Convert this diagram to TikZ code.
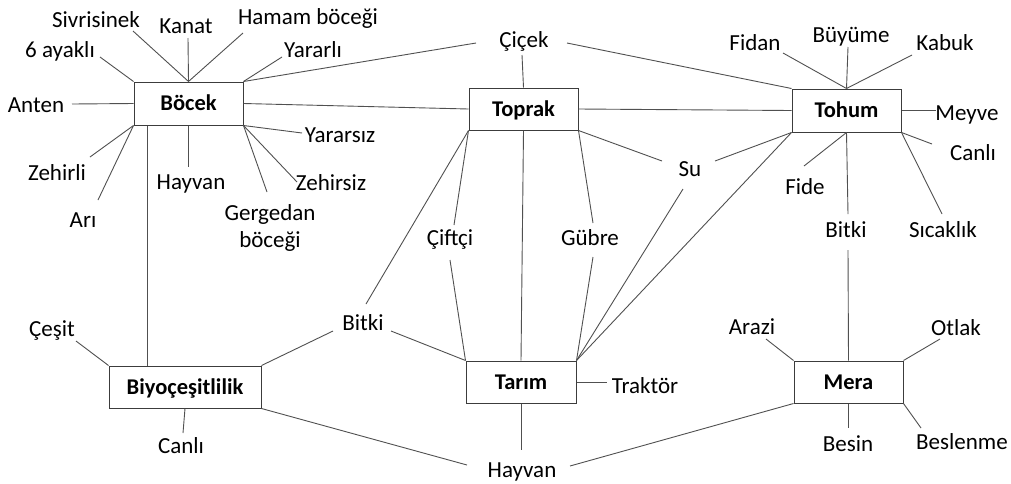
\documentclass[tikz,border=0pt]{standalone}
\usepackage{fontspec}
\setmainfont{Carlito}
\usetikzlibrary{calc}
\definecolor{ln}{RGB}{80,80,80}
\definecolor{bx}{RGB}{60,60,60}
\begin{document}
\begin{tikzpicture}[x=1pt,y=-1pt,
  box/.style={draw=bx,line width=1pt,minimum width=109pt,minimum height=43pt,inner sep=0pt,text height=14pt,text depth=0pt,font=\fontsize{22.5}{26}\selectfont\bfseries},
  lbl/.style={inner sep=0pt,text height=14pt,text depth=0pt,font=\fontsize{23}{27}\selectfont},
  conn/.style={draw=ln,line width=0.9pt}]
\useasboundingbox (0,0) rectangle (1011,483);
% boxes
\node[box] (bocek) at (188.5,103.5) {Böcek};
\node[box,minimum height=42pt] (toprak) at (523.5,109) {Toprak};
\node[box] (tohum) at (846.5,110.5) {Tohum};
\node[box,minimum width=152pt,minimum height=42pt] (biyo) at (185,387) {Biyoçeşitlilik};
\node[box,minimum width=110pt,minimum height=42pt] (tarim) at (521,382) {Tarım};
\node[box,minimum height=42pt] (mera) at (848.5,382) {Mera};
% labels
\node[lbl] (sivri) at (96,20) {Sivrisinek};
\node[lbl] (kanat) at (186,26) {Kanat};
\node[lbl] (hamam) at (308,17) {Hamam böceği};
\node[lbl] (ayak) at (60,50) {6 ayaklı};
\node[lbl] (yararli) at (313,50) {Yararlı};
\node[lbl] (anten) at (36,105) {Anten};
\node[lbl] (yararsiz) at (340,135) {Yararsız};
\node[lbl] (zehirli) at (57,173) {Zehirli};
\node[lbl] (hayvanA) at (191,182) {Hayvan};
\node[lbl] (zehirsiz) at (331,183) {Zehirsiz};
\node[inner sep=0pt,align=center,font=\fontsize{23}{27}\selectfont] (gerg) at (270,228) {Gergedan\\böceği};
\node[lbl] (ari) at (83,220) {Arı};
\node[lbl] (cicek) at (524,40) {Çiçek};
\node[lbl] (su) at (690,169) {Su};
\node[lbl] (ciftci) at (450,238) {Çiftçi};
\node[lbl] (gubre) at (590,238) {Gübre};
\node[lbl] (bitkiA) at (363,323) {Bitki};
\node[lbl] (fidan) at (755,43) {Fidan};
\node[lbl] (buyume) at (851,35) {Büyüme};
\node[lbl] (kabuk) at (945,43) {Kabuk};
\node[lbl] (meyve) at (967,113) {Meyve};
\node[lbl] (canliA) at (973,153) {Canlı};
\node[lbl] (fide) at (805,187) {Fide};
\node[lbl] (bitkiB) at (846,230) {Bitki};
\node[lbl] (sicak) at (943,230) {Sıcaklık};
\node[lbl] (cesit) at (52,329) {Çeşit};
\node[lbl] (canliB) at (181,446) {Canlı};
\node[lbl] (hayvanB) at (522,470) {Hayvan};
\node[lbl] (traktor) at (645,386) {Traktör};
\node[lbl] (arazi) at (752,327) {Arazi};
\node[lbl] (otlak) at (956,328) {Otlak};
\node[lbl] (besin) at (848,444) {Besin};
\node[lbl] (beslen) at (962,442) {Beslenme};
% free ends
\coordinate (c6ayak) at (100,57);
\coordinate (csivri) at (133,31);
\coordinate (ckanat) at (188,38);
\coordinate (chamam) at (243,33);
\coordinate (cyararli) at (282,57);
\coordinate (ccicekL) at (476,43);
\coordinate (canten) at (72,104);
\coordinate (cyararsiz) at (302,133);
\coordinate (czehirsiz) at (297,182);
\coordinate (cgerg) at (267,192);
\coordinate (chayvanA) at (188.5,167);
\coordinate (czehirli) at (90,157);
\coordinate (cari) at (98,200);
\coordinate (ccicekB) at (522,55);
\coordinate (ccicekR) at (567,43);
\coordinate (csuL) at (662,161);
\coordinate (cgubreT) at (593,223);
\coordinate (cciftciT) at (454,225);
\coordinate (cbitkiT) at (366,304);
\coordinate (cbitkiR) at (391,331);
\coordinate (cbitkiL) at (333,331);
\coordinate (cciftciB) at (450,260);
\coordinate (cgubreB) at (593,257);
\coordinate (csuB) at (683,189);
\coordinate (csuR) at (715,161);
\coordinate (cfidan) at (783,53);
\coordinate (cbuyume) at (848,47);
\coordinate (ckabuk) at (912,55);
\coordinate (cmeyve) at (936,110.5);
\coordinate (ccanliA) at (932,144);
\coordinate (csicak) at (942,214);
\coordinate (cfide) at (804,166);
\coordinate (cbitkiBT) at (848,214);
\coordinate (cbitkiBB) at (848,250);
\coordinate (carazi) at (766,339);
\coordinate (cotlak) at (940,339);
\coordinate (cbesin) at (848.5,428);
\coordinate (cbeslen) at (921,428);
\coordinate (chayvanR) at (570,466);
\coordinate (ctraktor) at (607,382);
\coordinate (chayvanT) at (521,450);
\coordinate (ccesit) at (76,341);
\coordinate (ccanliB) at (183,433);
\coordinate (chayvanL) at (467,465);
% connectors: Böcek
\draw[conn] (c6ayak) -- (bocek.north west);
\draw[conn] (csivri) -- (bocek.north);
\draw[conn] (ckanat) -- (bocek.north);
\draw[conn] (chamam) -- (bocek.north);
\draw[conn] (cyararli) -- (bocek.north east);
\draw[conn] (bocek.north east) -- (ccicekL);
\draw[conn] (canten) -- (bocek.west);
\draw[conn] (bocek.east) -- (toprak.west);
\draw[conn] (bocek.south east) -- (cyararsiz);
\draw[conn] (bocek.south east) -- (czehirsiz);
\draw[conn] (bocek.south east) -- (cgerg);
\draw[conn] (bocek.south) -- (chayvanA);
\draw[conn] (bocek.south west) -- (czehirli);
\draw[conn] (bocek.south west) -- (cari);
\draw[conn] ([xshift=14pt]bocek.south west) -- ([xshift=14pt]bocek.south west |- biyo.north);
% Toprak
\draw[conn] (ccicekB) -- (toprak.north);
\draw[conn] (ccicekR) -- (tohum.north west);
\draw[conn] (toprak.east) -- (tohum.west);
\draw[conn] (toprak.south east) -- (csuL);
\draw[conn] (toprak.south east) -- (cgubreT);
\draw[conn] (toprak.south) -- (tarim.north);
\draw[conn] (toprak.south west) -- (cciftciT);
\draw[conn] (toprak.south west) -- (cbitkiT);
\draw[conn] (cbitkiR) -- (tarim.north west);
\draw[conn] (cbitkiL) -- (biyo.north east);
\draw[conn] (cciftciB) -- (tarim.north west);
\draw[conn] (cgubreB) -- (tarim.north east);
\draw[conn] (csuB) -- (tarim.north east);
\draw[conn] (tohum.south west) -- (tarim.north east);
\draw[conn] (csuR) -- (tohum.south west);
% Tohum
\draw[conn] (cfidan) -- (tohum.north);
\draw[conn] (cbuyume) -- (tohum.north);
\draw[conn] (ckabuk) -- (tohum.north);
\draw[conn] (tohum.east) -- (cmeyve);
\draw[conn] (tohum.south east) -- (ccanliA);
\draw[conn] (tohum.south east) -- (csicak);
\draw[conn] (tohum.south) -- (cfide);
\draw[conn] (tohum.south) -- (cbitkiBT);
\draw[conn] (cbitkiBB) -- (mera.north);
% Mera
\draw[conn] (carazi) -- (mera.north west);
\draw[conn] (mera.north east) -- (cotlak);
\draw[conn] (mera.south) -- (cbesin);
\draw[conn] (mera.south east) -- (cbeslen);
\draw[conn] (mera.south west) -- (chayvanR);
% Tarım
\draw[conn] (tarim.east) -- (ctraktor);
\draw[conn] (tarim.south) -- (chayvanT);
% Biyoçeşitlilik
\draw[conn] (ccesit) -- (biyo.north west);
\draw[conn] (biyo.south) -- (ccanliB);
\draw[conn] (biyo.south east) -- (chayvanL);
\end{tikzpicture}
\end{document}
